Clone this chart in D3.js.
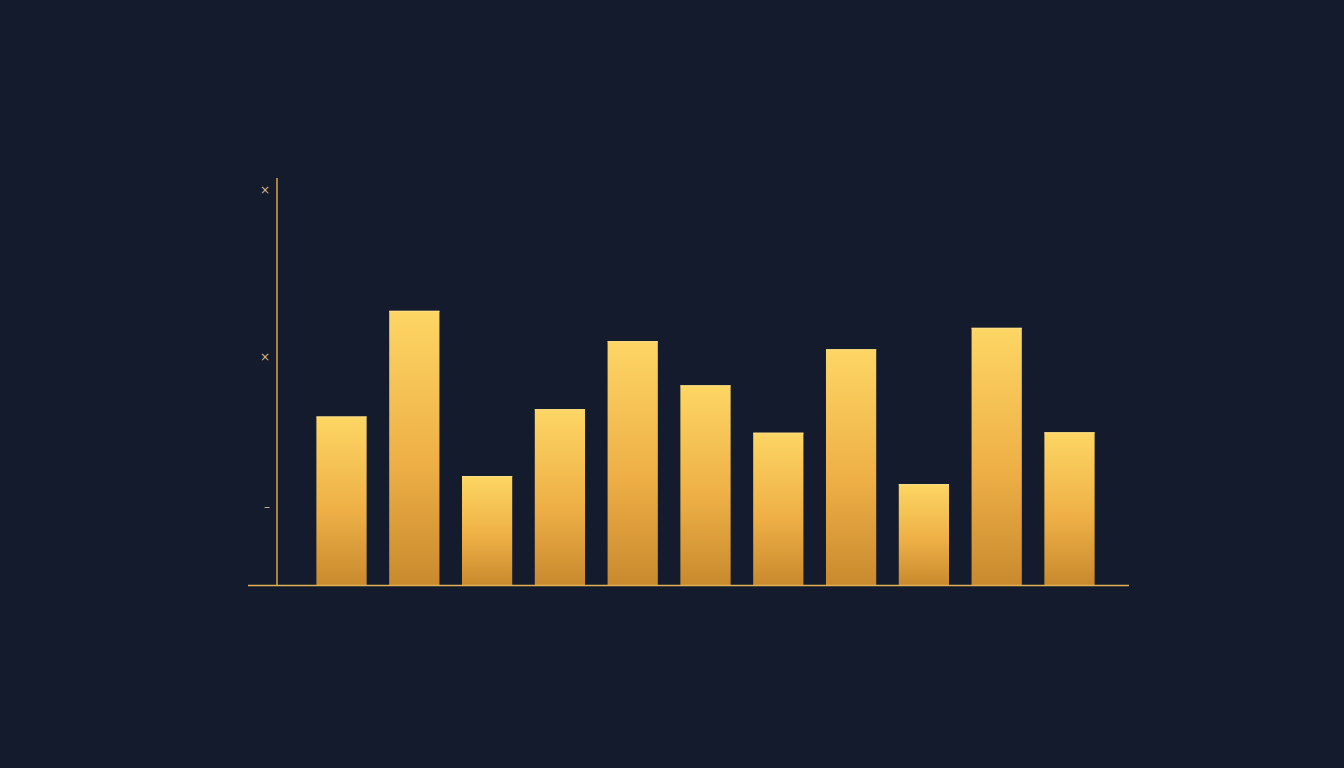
<!DOCTYPE html>
<html>
<head>
<meta charset="utf-8">
<script src="https://cdn.jsdelivr.net/npm/d3@7"></script>
<style>
  html, body { margin: 0; padding: 0; background: #141b2d; }
  svg { display: block; }
</style>
</head>
<body>
<svg id="chart"></svg>
<script>
const width = 1344, height = 768;

// Data
const categories = ["A", "B", "C", "D", "E", "F", "G", "H", "I", "J", "K"];
const values = [41.6, 67.7, 26.9, 43.4, 60.2, 49.3, 37.6, 58.2, 24.9, 63.5, 37.7];
const tickValues = [19.3, 56.3, 97.5];
const tickLabels = ["\u2013", "\u00d7", "\u00d7"];

const margin = { top: 180, right: 213, bottom: 183, left: 277 };

const svg = d3.select("#chart")
    .attr("width", width)
    .attr("height", height);

svg.append("rect")
    .attr("width", width)
    .attr("height", height)
    .attr("fill", "#141b2d");

// Bar gradient: light gold on top, deeper amber at the base
const defs = svg.append("defs");
const grad = defs.append("linearGradient")
    .attr("id", "barGrad")
    .attr("x1", 0).attr("y1", 0)
    .attr("x2", 0).attr("y2", 1);
grad.append("stop").attr("offset", "0%").attr("stop-color", "#fdd664");
grad.append("stop").attr("offset", "55%").attr("stop-color", "#eeb046");
grad.append("stop").attr("offset", "100%").attr("stop-color", "#c98a2e");

// bars start a little right of the y axis
const x = d3.scaleBand()
    .domain(categories)
    .range([280, width - margin.right])
    .paddingInner(0.31)
    .paddingOuter(0.5);

const y = d3.scaleLinear()
    .domain([0, 100])
    .range([height - margin.bottom, margin.top]);

// Bars
svg.append("g")
    .selectAll("rect")
    .data(values)
    .join("rect")
    .attr("x", (d, i) => x(categories[i]))
    .attr("y", d => y(d))
    .attr("width", x.bandwidth())
    .attr("height", d => y(0) - y(d))
    .attr("fill", "url(#barGrad)");

// Thin highlight along each bar top
svg.append("g")
    .selectAll("line")
    .data(values)
    .join("line")
    .attr("x1", (d, i) => x(categories[i]))
    .attr("x2", (d, i) => x(categories[i]) + x.bandwidth())
    .attr("y1", d => y(d) + 0.5)
    .attr("y2", d => y(d) + 0.5)
    .attr("stroke", "#ffe08a")
    .attr("stroke-width", 1);

// Y axis
const yAxis = d3.axisLeft(y)
    .tickValues(tickValues)
    .tickFormat((d, i) => tickLabels[i])
    .tickSize(0)
    .tickPadding(7);

const yG = svg.append("g")
    .attr("transform", `translate(${margin.left},0)`)
    .call(yAxis);
yG.select(".domain").remove();
yG.selectAll("text")
    .attr("fill", "#cdbb8a")
    .attr("font-family", "DejaVu Sans, sans-serif")
    .attr("font-size", 12);

svg.append("line")
    .attr("x1", margin.left).attr("x2", margin.left)
    .attr("y1", 178).attr("y2", y(0))
    .attr("stroke", "#d9a743")
    .attr("stroke-width", 1.5);

// X axis baseline, running a little past the y axis
svg.append("line")
    .attr("x1", 248).attr("x2", 1129)
    .attr("y1", y(0) + 0.5).attr("y2", y(0) + 0.5)
    .attr("stroke", "#e0b255")
    .attr("stroke-width", 1.5);
</script>
</body>
</html>
